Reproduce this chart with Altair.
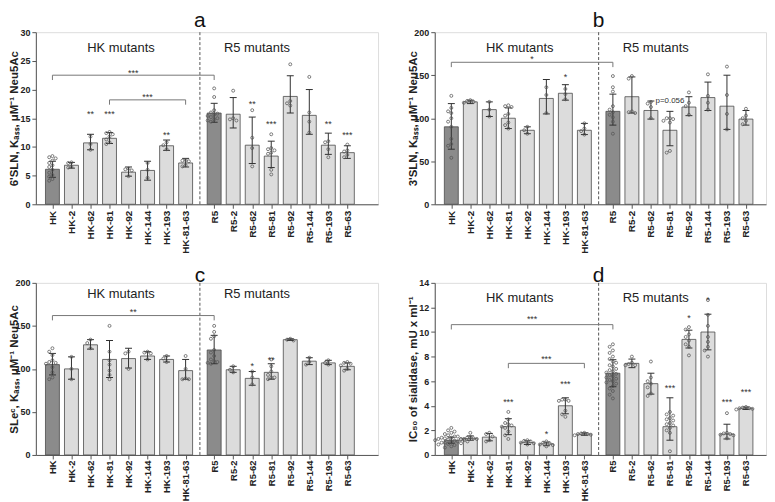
import altair as alt
import pandas as pd

FONT = "Liberation Sans"

HK_CATS = ["HK", "HK-2", "HK-62", "HK-81", "HK-92", "HK-144", "HK-193", "HK-81-63"]
R5_CATS = ["R5", "R5-2", "R5-62", "R5-81", "R5-92", "R5-144", "R5-193", "R5-63"]
CATS = HK_CATS + R5_CATS
WILD = ["HK", "R5"]
GROUP_LABELS = ["HK mutants", "R5 mutants"]

# ---------------- panel a : 6'SLN ----------------
A_MEAN = [6.1, 6.8, 10.7, 11.5, 5.6, 5.9, 10.2, 7.2, 15.9, 15.7, 10.3, 8.4, 18.8, 15.5, 10.3, 9.0]
A_HI = [7.5, 7.3, 12.2, 12.5, 6.5, 7.5, 11.2, 8.0, 17.6, 18.6, 15.2, 11.0, 22.4, 20.0, 12.4, 10.2]
A_LO = [4.7, 6.3, 9.5, 10.6, 4.9, 4.2, 9.4, 6.5, 14.3, 13.3, 7.1, 6.4, 15.9, 12.2, 8.7, 8.0]
A_POINTS = [
    [8.4, 8.2, 8.0, 7.6, 7.2, 6.8, 6.5, 6.0, 5.5, 5.1, 4.8, 4.4, 4.1],
    [7.3, 7.2, 6.5, 6.4],
    [11.8, 10.5, 9.5],
    [12.6, 12.4, 12.2, 11.8, 11.3, 10.8, 10.5],
    [6.2, 6.1, 5.9, 4.9],
    [7.2, 6.0, 4.6],
    [10.8, 10.3, 9.6],
    [7.7, 7.6, 7.5, 6.8, 6.6],
    [20.2, 18.7, 16.4, 16.0, 15.8, 15.6, 15.4, 15.2, 15.0, 14.8, 14.6, 14.4],
    [19.8, 15.0, 14.8, 14.6],
    [16.4, 11.6, 9.8, 6.6],
    [12.2, 9.8, 9.6, 9.4, 9.0, 8.8, 6.0, 5.2],
    [24.4, 18.0, 17.6, 17.2],
    [22.2, 16.0, 14.4, 12.5],
    [11.0, 10.8, 9.6, 8.2],
    [10.4, 9.4, 9.2, 8.6, 8.2],
]
A_STARS = [(2, "**", 16.0), (3, "***", 16.0), (6, "**", 12.4), (10, "**", 17.9),
           (11, "***", 14.4), (14, "**", 14.3), (15, "***", 12.4)]
A_BRACKETS = [(0, 8, 22.5, "***", 23.3), (3, 7, 18.2, "***", 19.0)]

# ---------------- panel b : 3'SLN ----------------
B_MEAN = [90, 119, 110, 100, 86, 123, 129, 86, 108, 125, 109, 86, 113, 124, 114, 99]
B_HI = [117, 121, 119, 112, 90, 145, 139, 94, 128, 148, 120, 108, 125, 142, 150, 109]
B_LO = [64, 117, 102, 88, 82, 105, 121, 81, 92, 106, 99, 68, 103, 109, 87, 92]
B_POINTS = [
    [126, 112, 108, 106, 100, 96, 90, 76, 70, 68, 54],
    [121, 120, 119, 118],
    [119, 110, 102],
    [115, 114, 113, 105, 103, 95, 92, 88],
    [90, 86, 82],
    [136, 127, 106],
    [134, 128, 122],
    [94, 88, 85, 81],
    [149, 136, 131, 114, 110, 107, 104, 101, 96, 82],
    [149, 146, 108, 107, 106],
    [119, 117, 113, 100],
    [100, 100, 99, 97, 95, 62, 60],
    [130, 118, 114, 104],
    [151, 126, 118, 110],
    [160, 127, 105, 87],
    [111, 103, 100, 97, 93],
]
B_STARS = [(6, "*", 150)]
B_BRACKETS = [(0, 8, 165, "*", 171)]
B_NOTES = [(11, "p=0.056", 120)]

# ---------------- panel c : SLe^c ----------------
C_MEAN = [105, 100, 128, 111, 112, 115, 111, 98, 122, 99, 89, 96, 134, 109, 107, 103]
C_HI = [118, 114, 134, 133, 124, 120, 115, 111, 139, 103, 97, 106, 135, 113, 110, 107]
C_LO = [93, 88, 123, 90, 101, 111, 108, 88, 106, 96, 81, 88, 133, 105, 105, 99]
C_POINTS = [
    [124, 120, 116, 110, 108, 107, 106, 102, 96, 90, 88],
    [114, 100, 88],
    [134, 130, 124],
    [150, 120, 110, 105, 98, 93, 88],
    [120, 118, 100],
    [120, 119, 118, 111],
    [115, 112, 108],
    [115, 100, 89, 88, 88],
    [150, 143, 138, 135, 122, 119, 115, 111, 109, 108, 107, 106],
    [103, 99, 96],
    [97, 90, 82],
    [111, 103, 97, 93, 90, 90, 88],
    [135, 134, 133],
    [113, 108, 105],
    [110, 107, 105],
    [108, 107, 106, 104, 100, 98],
]
C_STARS = [(10, "*", 106), (11, "**", 113)]
C_BRACKETS = [(0, 8, 162, "**", 168)]

# ---------------- panel d : IC50 ----------------
D_MEAN = [1.2, 1.35, 1.45, 2.3, 1.0, 0.9, 4.0, 1.7, 6.65, 7.45, 5.8, 2.3, 9.4, 10.0, 1.7, 3.8]
D_HI = [1.45, 1.55, 1.75, 2.95, 1.15, 1.05, 4.65, 1.8, 7.75, 7.8, 6.65, 4.65, 10.15, 11.45, 2.5, 3.9]
D_LO = [0.95, 1.2, 1.15, 1.65, 0.85, 0.75, 3.35, 1.6, 5.55, 7.1, 4.95, 1.2, 8.7, 8.55, 1.3, 3.7]
D_POINTS = [
    [2.2, 2.0, 1.9, 1.8, 1.7, 1.6, 1.5, 1.5, 1.4, 1.4, 1.35, 1.3, 1.3, 1.25, 1.2, 1.2,
     1.15, 1.1, 1.1, 1.05, 1.0, 1.0, 0.95, 0.9, 0.85, 0.8, 0.7, 0.6],
    [1.8, 1.45, 1.4, 1.35, 1.3, 1.3, 1.25],
    [1.8, 1.7, 1.5, 1.2, 1.1],
    [3.5, 2.9, 2.6, 2.5, 2.4, 2.3, 2.2, 1.9, 1.6, 1.3],
    [1.2, 1.15, 1.1, 1.0, 0.95, 0.85],
    [1.1, 1.0, 0.95, 0.85, 0.8, 0.7],
    [4.5, 4.5, 4.4, 4.4, 3.6, 3.3, 3.1],
    [1.8, 1.75, 1.7, 1.7, 1.65, 1.6],
    [9.0, 8.8, 8.5, 8.3, 8.0, 7.8, 7.6, 7.5, 7.3, 7.2, 7.0, 6.9, 6.8, 6.7, 6.6, 6.5,
     6.4, 6.3, 6.2, 6.1, 6.0, 5.9, 5.8, 5.6, 5.4, 5.2, 4.9, 4.6],
    [8.0, 7.5, 7.4, 7.3, 7.3],
    [7.6, 6.3, 6.0, 5.8, 5.5, 5.0, 4.8],
    [3.5, 3.3, 3.2, 3.0, 2.9, 2.8, 2.6, 2.5, 2.4, 2.2, 2.0, 1.8, 0.3],
    [10.4, 10.2, 9.8, 9.6, 9.3, 9.0, 8.8, 8.1],
    [12.6, 11.4, 10.5, 9.6, 9.2, 8.8, 8.5, 8.0],
    [3.4, 1.8, 1.75, 1.7, 1.65, 1.6, 1.35],
    [3.9, 3.85, 3.8, 3.8, 3.75, 3.7],
]
D_STARS = [(3, "***", 4.5), (5, "*", 1.85), (6, "***", 5.95), (11, "***", 5.6),
           (12, "*", 11.3), (13, "*", 12.8), (14, "***", 4.5), (15, "***", 5.3)]
D_BRACKETS = [(0, 8, 10.6, "***", 11.2), (3, 7, 7.45, "***", 8.0)]

# ---------------- layout helpers ----------------
POS = [float(i) for i in range(8)] + [8.5 + i for i in range(8)]
SEP = 7.75
GROUP_X = [3.6, 10.75]
STEP_PX = 19.7

label_hk = "[" + ",".join("'%s'" % c for c in HK_CATS) + "]"
label_r5 = "[" + ",".join("'%s'" % c for c in R5_CATS) + "]"
LABEL_EXPR = "datum.value < 8 ? %s[round(datum.value)] : %s[round(datum.value - 8.5)]" % (label_hk, label_r5)


def swarm(vals, ymax, step=0.17):
    thr = ymax * 0.022
    placed = []
    offs = []
    slots = [0, -1, 1, -2, 2, -3, 3, -4, 4, -5, 5]
    for v in vals:
        chosen = slots[-1]
        for s in slots:
            if all(not (abs(v - pv) < thr and ps == s) for pv, ps in placed):
                chosen = s
                break
        placed.append((v, chosen))
        offs.append(chosen * step)
    return offs


def panel(letter, ytitle, ymax, ystep, width, mean, hi, lo, points, stars, brackets,
          notes, group_y, title_y, xlab_size, xlab_pad):
    xmax = width / STEP_PX - 0.61
    xs = alt.Scale(domain=[-0.61, xmax], nice=False, zero=False)
    ys = alt.Scale(domain=[0, ymax], nice=False, zero=True)
    xa = alt.Axis(values=POS, labelExpr=LABEL_EXPR, labelAngle=270, title=None, grid=False,
                  tickSize=4, labelPadding=xlab_pad, labelFont=FONT, labelFontSize=xlab_size,
                  labelFontWeight="bold", labelColor="#222", domainColor="#555",
                  tickColor="#555", labelOverlap=False, labelFlush=False, labelBound=False)
    ya = alt.Axis(values=list(range(0, ymax + 1, ystep)), title=ytitle, grid=False,
                  tickSize=4, labelPadding=2, labelFont=FONT, labelFontSize=9,
                  labelFontWeight="bold", labelColor="#222", domainColor="#555",
                  tickColor="#555", titleFont=FONT, titleFontSize=11.5,
                  titleFontWeight="bold", titleColor="#222", titlePadding=2,
                  minExtent=14, maxExtent=14, labelFlush=False)

    def X(f):
        return alt.X(f, type="quantitative", scale=xs, axis=xa)

    def Y(f):
        return alt.Y(f, type="quantitative", scale=ys, axis=ya)

    bars_df = pd.DataFrame({
        "cat": CATS, "pos": POS, "mean": mean, "hi": hi, "lo": lo,
        "fill": ["#8b8b8b" if c in WILD else "#dcdcdc" for c in CATS],
    })
    pts_rows = []
    for i, vals in enumerate(points):
        offs = swarm(vals, ymax)
        for v, o in zip(vals, offs):
            pts_rows.append({"px": POS[i] + o, "val": v})
    pts_df = pd.DataFrame(pts_rows)

    br_rows, leg_rows, brl_rows = [], [], []
    drop = ymax * 0.028
    for a, b, yv, lab, ly in brackets:
        br_rows.append({"x1": POS[a], "x2": POS[b], "y": yv})
        leg_rows.append({"x": POS[a], "y1": yv, "y2": yv - drop})
        leg_rows.append({"x": POS[b], "y1": yv, "y2": yv - drop})
        brl_rows.append({"x": (POS[a] + POS[b]) / 2, "y": ly, "t": lab})
    star_df = pd.DataFrame([{"x": POS[i], "y": yv, "t": t} for i, t, yv in stars] + brl_rows)

    bars = alt.Chart(bars_df).mark_bar(size=14, stroke="#4a4a4a", strokeWidth=0.8).encode(
        x=X("pos"), y=Y("mean"), fill=alt.Fill("fill:N", scale=None))
    err = alt.Chart(bars_df).mark_rule(color="#303030", strokeWidth=1).encode(
        x=X("pos"), y=Y("lo"), y2="hi")
    cap_hi = alt.Chart(bars_df).mark_tick(orient="horizontal", size=7, thickness=1,
                                          color="#303030", opacity=1).encode(x=X("pos"), y=Y("hi"))
    cap_lo = alt.Chart(bars_df).mark_tick(orient="horizontal", size=7, thickness=1,
                                          color="#303030", opacity=1).encode(x=X("pos"), y=Y("lo"))
    pts = alt.Chart(pts_df).mark_point(shape="circle", filled=False, size=9, strokeWidth=0.75,
                                       color="#555", opacity=1).encode(x=X("px"), y=Y("val"))
    sep = alt.Chart(pd.DataFrame({"s": [SEP]})).mark_rule(
        strokeDash=[3, 2], color="#555", strokeWidth=1).encode(x=X("s"))
    br = alt.Chart(pd.DataFrame(br_rows)).mark_rule(color="#777", strokeWidth=1).encode(
        x=X("x1"), x2="x2", y=Y("y"))
    legs = alt.Chart(pd.DataFrame(leg_rows)).mark_rule(color="#777", strokeWidth=1).encode(
        x=X("x"), y=Y("y1"), y2="y2")
    st = alt.Chart(star_df).mark_text(font=FONT, fontSize=9, color="#333", baseline="alphabetic",
                                      dy=5).encode(x=X("x"), y=Y("y"), text="t:N")
    grp = alt.Chart(pd.DataFrame({"x": GROUP_X, "t": GROUP_LABELS})).mark_text(
        font=FONT, fontSize=13, color="#222", baseline="middle").encode(
        x=X("x"), y=alt.value(group_y), text="t:N")
    ttl = alt.Chart(pd.DataFrame({"x": [SEP], "t": [letter]})).mark_text(
        font=FONT, fontSize=21, color="#111", baseline="alphabetic", align="center").encode(
        x=X("x"), y=alt.value(title_y), text="t:N")
    layers = [bars, err, cap_hi, cap_lo, pts, sep, br, legs, st, grp, ttl]
    if notes:
        nd = pd.DataFrame([{"x": POS[i], "y": yv, "t": t} for i, t, yv in notes])
        layers.append(alt.Chart(nd).mark_text(font=FONT, fontSize=8, color="#333",
                                              baseline="middle").encode(x=X("x"), y=Y("y"), text="t:N"))
    return alt.layer(*layers).properties(width=width, height=173)


pa = panel("a", "6'SLN, Kₐₛₛ, μM⁻¹ Neu5Ac", 30, 5, 344, A_MEAN, A_HI, A_LO, A_POINTS,
           A_STARS, A_BRACKETS, [], 16, -5, 10, 2)
pb = panel("b", "3'SLN, Kₐₛₛ, μM⁻¹ Neu5Ac", 200, 50, 333, B_MEAN, B_HI, B_LO, B_POINTS,
           B_STARS, B_BRACKETS, B_NOTES, 16, -5, 10, 2)
pc = panel("c", "SLeᶜ, Kₐₛₛ, μM⁻¹ Neu5Ac", 200, 50, 344, C_MEAN, C_HI, C_LO, C_POINTS,
           C_STARS, C_BRACKETS, [], 11, -1, 9.5, 1)
pdd = panel("d", "IC₅₀ of sialidase, mU x ml⁻¹", 14, 2, 333, D_MEAN, D_HI, D_LO, D_POINTS,
            D_STARS, D_BRACKETS, [], 15, -1, 9.5, 1)

chart = alt.concat(pa, pb, pc, pdd, columns=2,
                   spacing=alt.RowColnumber(row=79, column=57),
                   bounds="flush", padding=0
                   ).configure_view(stroke=None).configure(font=FONT)

chart.save("out.html", embed_options={"renderer": "svg", "actions": False})
